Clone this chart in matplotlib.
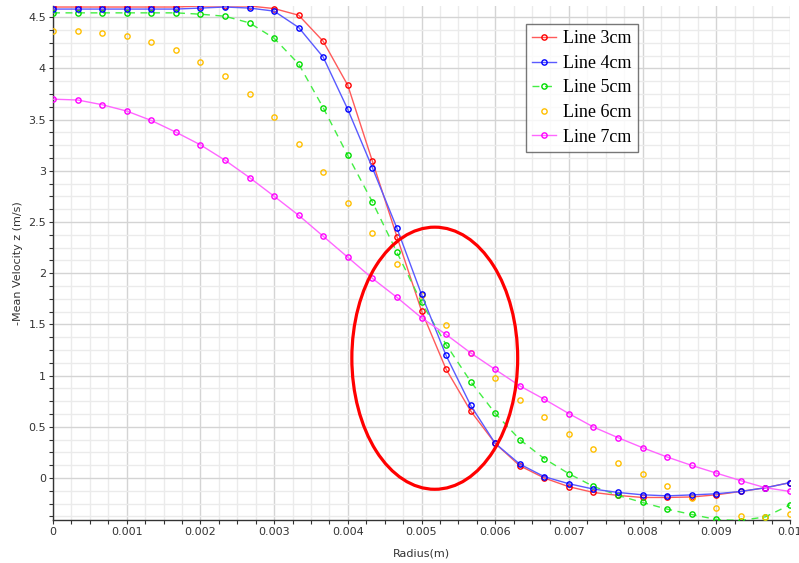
import numpy as np
import matplotlib
matplotlib.use("Agg")
import matplotlib.pyplot as plt
from matplotlib.patches import Ellipse
from matplotlib.ticker import MultipleLocator, FixedLocator

# Radius positions (m): 31 samples from 0 to 0.01
radius = [i * 0.01 / 30 for i in range(31)]

line_3cm = [4.60, 4.60, 4.60, 4.60, 4.60, 4.60, 4.61, 4.61, 4.61, 4.585,
            4.52, 4.265, 3.835, 3.095, 2.357, 1.633, 1.063, 0.655, 0.338, 0.12,
            0.0, -0.085, -0.141, -0.170, -0.19, -0.19, -0.185, -0.164, -0.131, -0.095,
            -0.045]
line_4cm = [4.58, 4.58, 4.58, 4.58, 4.58, 4.58, 4.59, 4.60, 4.59, 4.56,
            4.40, 4.11, 3.60, 3.03, 2.44, 1.793, 1.197, 0.71, 0.338, 0.136,
            0.013, -0.056, -0.108, -0.141, -0.164, -0.174, -0.165, -0.154, -0.131, -0.095,
            -0.045]
line_5cm = [4.543, 4.543, 4.543, 4.543, 4.543, 4.543, 4.53, 4.51, 4.445, 4.295,
            4.044, 3.616, 3.15, 2.697, 2.204, 1.715, 1.304, 0.942, 0.632, 0.375,
            0.189, 0.042, -0.082, -0.170, -0.239, -0.304, -0.356, -0.405, -0.415, -0.379,
            -0.262]
line_6cm = [4.37, 4.363, 4.347, 4.314, 4.256, 4.18, 4.067, 3.927, 3.753, 3.525,
            3.264, 2.993, 2.69, 2.393, 2.09, 1.787, 1.493, 1.222, 0.975, 0.762,
            0.593, 0.427, 0.28, 0.15, 0.035, -0.082, -0.193, -0.288, -0.369, -0.385,
            -0.35]
line_7cm = [3.70, 3.692, 3.646, 3.584, 3.492, 3.378, 3.254, 3.104, 2.934, 2.752,
            2.566, 2.361, 2.156, 1.95, 1.764, 1.565, 1.402, 1.222, 1.06, 0.90,
            0.769, 0.629, 0.498, 0.394, 0.296, 0.205, 0.123, 0.048, -0.026, -0.095,
            -0.131]

labels = ["Line 3cm", "Line 4cm", "Line 5cm", "Line 6cm", "Line 7cm"]

fig = plt.figure(figsize=(7.99, 5.63), dpi=100)
ax = fig.add_axes([53/799, 43/563, 737/799, 514/563])

ms = 3.8
ax.plot(radius, line_3cm, color="#ff5a5a", lw=1.0, marker="o", ms=ms,
        mfc="none", mec="#ff0000", mew=1.0, label=labels[0], zorder=3)
ax.plot(radius, line_4cm, color="#5a5aff", lw=1.0, marker="o", ms=ms,
        mfc="none", mec="#0000ff", mew=1.0, label=labels[1], zorder=4)
ax.plot(radius, line_5cm, color="#44ee44", lw=1.0, ls=(0, (5, 4)), marker="o", ms=ms,
        mfc="none", mec="#00dd00", mew=1.0, label=labels[2], zorder=3)
ax.plot(radius, line_6cm, color="#ffc000", lw=0, marker="o", ms=ms,
        mfc="none", mec="#ffbf00", mew=1.0, label=labels[3], zorder=3)
ax.plot(radius, line_7cm, color="#ff66ff", lw=1.0, marker="o", ms=ms,
        mfc="none", mec="#ff00ff", mew=1.0, label=labels[4], zorder=5)

ax.set_xlim(0, 0.01)
ax.set_ylim(-0.41, 4.61)

ax.xaxis.set_major_locator(MultipleLocator(0.001))
ax.xaxis.set_minor_locator(MultipleLocator(0.00025))
ax.yaxis.set_major_locator(FixedLocator([0, 0.5, 1, 1.5, 2, 2.5, 3, 3.5, 4, 4.5]))
ax.yaxis.set_minor_locator(MultipleLocator(0.125))
ax.xaxis.set_major_formatter(matplotlib.ticker.FuncFormatter(
    lambda v, p: "0" if abs(v) < 1e-12 else ("%g" % round(v, 4))))
ax.yaxis.set_major_formatter(matplotlib.ticker.FuncFormatter(
    lambda v, p: "%g" % v))

ax.grid(which="major", color="#d4d4d4", lw=1.0, zorder=0)
ax.grid(which="minor", color="#ebebeb", lw=1.0, zorder=0)
ax.set_axisbelow(True)

for s in ["top", "right"]:
    ax.spines[s].set_visible(False)
for s in ["left", "bottom"]:
    ax.spines[s].set_color("#333333")
    ax.spines[s].set_linewidth(1.0)

ax.tick_params(which="major", direction="out", length=3, width=0.8,
               color="#333333", labelsize=8, labelcolor="#333333", pad=2)
ax.tick_params(which="minor", direction="out", length=3, width=0.8, color="#333333")

ax.set_xlabel("Radius(m)", fontsize=8, color="#333333", labelpad=8)
ax.set_ylabel("-Mean Velocity z (m/s)", fontsize=8, color="#333333", labelpad=4)

leg = ax.legend(loc="upper left", bbox_to_anchor=(0.642, 0.965),
                prop={"family": "Liberation Serif", "size": 13},
                frameon=True, fancybox=False, edgecolor="#555555",
                handlelength=1.3, handletextpad=0.4, borderpad=0.35,
                labelspacing=0.42, borderaxespad=0, markerscale=1.0)
leg.get_frame().set_linewidth(1.0)

ell = Ellipse((0.00518, 1.17), 0.00225, 2.56, fill=False, edgecolor="#ff0000",
              lw=2.3, zorder=6)
ax.add_patch(ell)

fig.savefig("out.png", dpi=100)
